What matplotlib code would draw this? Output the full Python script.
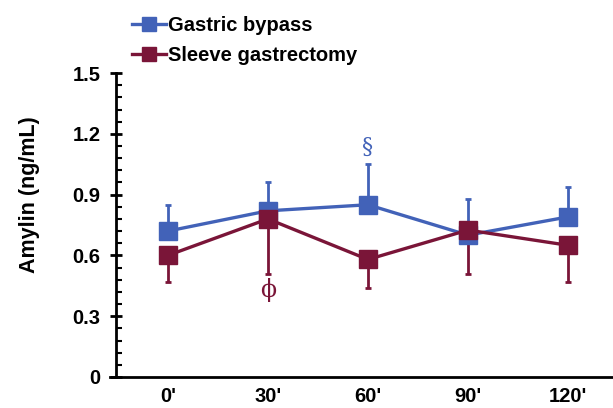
import numpy as np
import matplotlib.pyplot as plt
from matplotlib.ticker import MultipleLocator

plt.rcParams['font.family'] = ['Liberation Sans', 'DejaVu Sans']
plt.rcParams['font.weight'] = 'bold'

# data
times = ["0'", "30'", "60'", "90'", "120'"]
bypass = [0.72, 0.82, 0.85, 0.70, 0.79]
bypass_err = [0.13, 0.14, 0.20, 0.18, 0.15]
sleeve = [0.60, 0.78, 0.58, 0.725, 0.65]
sleeve_err = [0.13, 0.27, 0.14, 0.215, 0.18]

blue = '#4262B8'
red = '#7A1538'

fig = plt.figure(figsize=(6.13, 4.08), dpi=100)
ax = fig.add_axes([0.189, 0.076, 0.811, 0.745])

x = np.arange(len(times))
z = np.zeros(len(times))

# error bars: bypass upward, sleeve downward
ax.errorbar(x, bypass, yerr=[z, bypass_err], fmt='none', ecolor=blue,
            elinewidth=2, capsize=2.5, capthick=2, zorder=2)
ax.errorbar(x, sleeve, yerr=[sleeve_err, z], fmt='none', ecolor=red,
            elinewidth=2, capsize=2.5, capthick=2, zorder=2)

l1, = ax.plot(x, bypass, color=blue, lw=2.4, marker='s', ms=12.5, zorder=3,
              label='Gastric bypass')
l2, = ax.plot(x, sleeve, color=red, lw=2.4, marker='s', ms=12.5, zorder=4,
              label='Sleeve gastrectomy')

# significance marks
ax.text(2, bypass[2] + bypass_err[2] + 0.03, '§', color=blue, ha='center',
        va='bottom', fontsize=16, fontweight='normal', family='DejaVu Serif')
ax.text(1, sleeve[1] - sleeve_err[1] - 0.02, 'ϕ', color=red, ha='center',
        va='top', fontsize=17, fontweight='normal', family='DejaVu Serif')

ax.set_xlim(-0.52, 4.45)
ax.set_ylim(0, 1.5)
ax.set_xticks(x)
ax.set_xticklabels(times)
ax.set_yticks([0, 0.3, 0.6, 0.9, 1.2, 1.5])
ax.set_yticklabels(['0', '0.3', '0.6', '0.9', '1.2', '1.5'])
ax.yaxis.set_minor_locator(MultipleLocator(0.06))
ax.tick_params(axis='x', length=0, labelsize=14.5, pad=7)
ax.tick_params(axis='y', which='major', direction='inout', length=8,
               width=2, labelsize=14.5, pad=7)
ax.tick_params(axis='y', which='minor', direction='in', length=4, width=1.5)
for s in ['top', 'right']:
    ax.spines[s].set_visible(False)
for s in ['left', 'bottom']:
    ax.spines[s].set_linewidth(2)
ax.spines['bottom'].set_bounds(-0.58, 4.45)

ax.set_ylabel('Amylin (ng/mL)', fontsize=15.5, fontweight='bold')
ax.yaxis.set_label_coords(-0.153, 0.60)

fig.legend(handles=[l1, l2], loc='upper left', bbox_to_anchor=(0.185, 1.005),
           frameon=False, fontsize=14.5, handlelength=1.7, handletextpad=0.1,
           labelspacing=0.55, markerscale=0.75)

fig.savefig('out.png', dpi=100)
